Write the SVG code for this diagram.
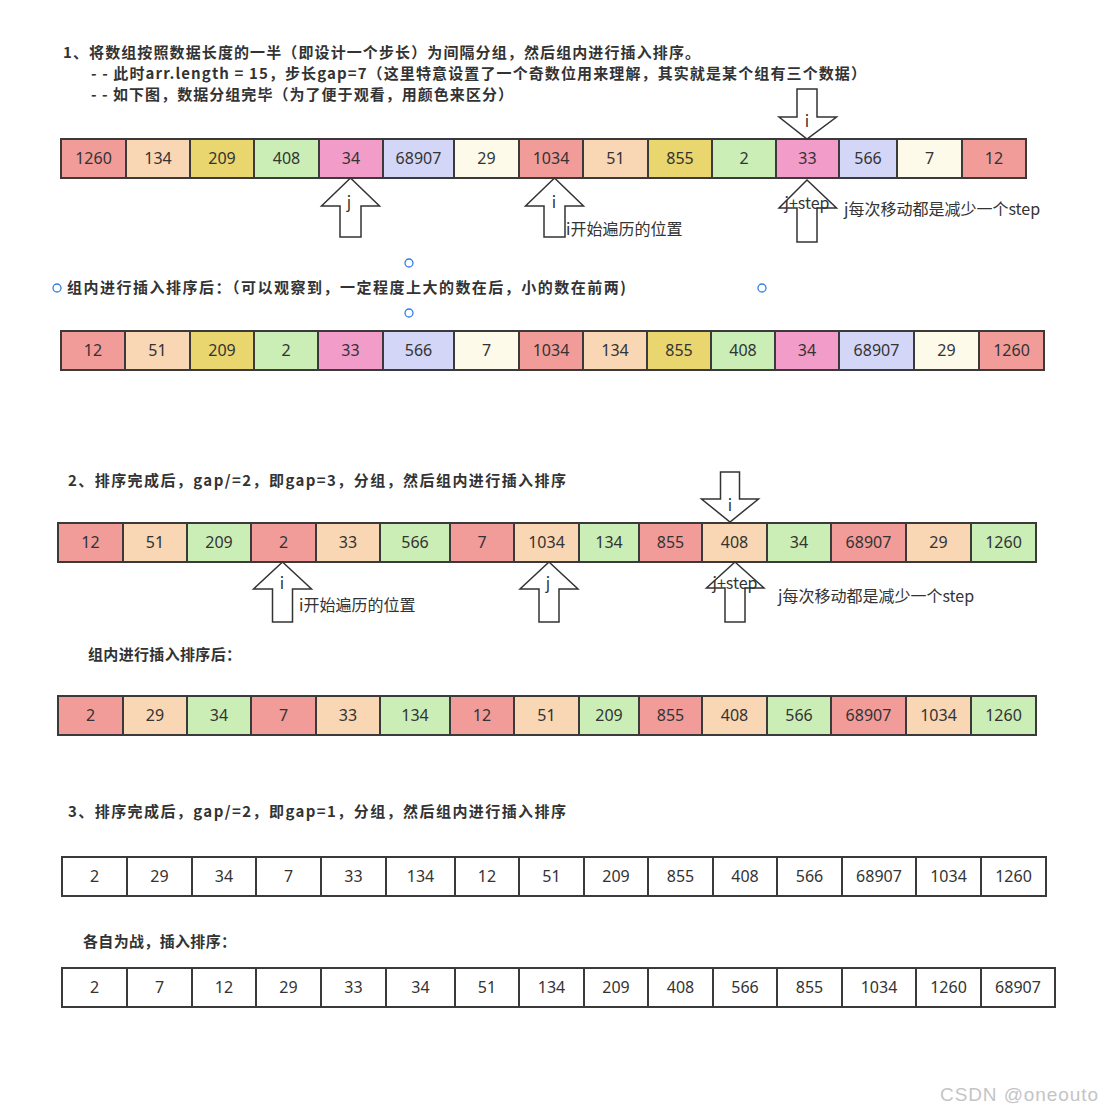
<svg xmlns="http://www.w3.org/2000/svg" width="1104" height="1113" viewBox="0 0 1104 1113">
<style>
.bg{fill:#ffffff}
.h{font-family:"Noto Sans CJK SC","Noto Sans",sans-serif;font-size:15px;font-weight:bold;fill:#333333}
.c rect{stroke:#3a3a3a;stroke-width:2}
.c text,.n{font-family:"Noto Sans","Noto Sans CJK SC",sans-serif;font-size:16px;fill:#333333;text-anchor:middle}
.R{fill:#F19C99}.P{fill:#F9D6B4}.Y{fill:#E9D66E}.G{fill:#CBEDB6}.K{fill:#F19CC9}.L{fill:#D3D6F6}.C{fill:#FDFAEA}.W{fill:#ffffff}
.arr{fill:#ffffff;stroke:#333333;stroke-width:1.5;stroke-linejoin:miter}
.lbl{font-family:"Noto Sans CJK SC","Noto Sans",sans-serif;font-size:16px;fill:#333333}
.ctr{text-anchor:middle}
.hd{fill:#ffffff;stroke:#2f7fe6;stroke-width:1.3}
.wm{font-family:"Liberation Sans",Arial,sans-serif;font-size:19px;fill:#c4c4c4}
</style>
<rect class="bg" x="0" y="0" width="1104" height="1113"/>

<g id="headings">
<text class="h" x="63" y="58" textLength="637">1、将数组按照数据长度的一半（即设计一个步长）为间隔分组，然后组内进行插入排序。</text>
<text class="h" x="91" y="79" textLength="775">- - 此时arr.length = 15，步长gap=7（这里特意设置了一个奇数位用来理解，其实就是某个组有三个数据）</text>
<text class="h" x="91" y="100" textLength="422">- - 如下图，数据分组完毕（为了便于观看，用颜色来区分）</text>
<text class="h" x="67" y="293" textLength="559">组内进行插入排序后：（可以观察到，一定程度上大的数在后，小的数在前两)</text>
<text class="h" x="68" y="486" textLength="498">2、排序完成后，gap/=2，即gap=3，分组，然后组内进行插入排序</text>
<text class="h" x="88" y="660" textLength="153">组内进行插入排序后：</text>
<text class="h" x="68" y="817" textLength="498">3、排序完成后，gap/=2，即gap=1，分组，然后组内进行插入排序</text>
<text class="h" x="83" y="947" textLength="153">各自为战，插入排序：</text>
</g>

<g id="handles">
<circle class="hd" cx="409" cy="263" r="4"/>
<circle class="hd" cx="57" cy="288" r="4"/>
<circle class="hd" cx="762" cy="288" r="4"/>
<circle class="hd" cx="409" cy="313" r="4"/>
</g>

<!-- Row 1 -->
<g id="row1" class="c">
<g id="r1c1"><rect class="R" x="61" y="139" width="65" height="39"/><text x="93.5" y="164">1260</text></g>
<g id="r1c2"><rect class="P" x="126" y="139" width="64" height="39"/><text x="158" y="164">134</text></g>
<g id="r1c3"><rect class="Y" x="190" y="139" width="64" height="39"/><text x="222" y="164">209</text></g>
<g id="r1c4"><rect class="G" x="254" y="139" width="65" height="39"/><text x="286.5" y="164">408</text></g>
<g id="r1c5"><rect class="K" x="319" y="139" width="64" height="39"/><text x="351" y="164">34</text></g>
<g id="r1c6"><rect class="L" x="383" y="139" width="71" height="39"/><text x="418.5" y="164">68907</text></g>
<g id="r1c7"><rect class="C" x="454" y="139" width="65" height="39"/><text x="486.5" y="164">29</text></g>
<g id="r1c8"><rect class="R" x="519" y="139" width="64" height="39"/><text x="551" y="164">1034</text></g>
<g id="r1c9"><rect class="P" x="583" y="139" width="65" height="39"/><text x="615.5" y="164">51</text></g>
<g id="r1c10"><rect class="Y" x="648" y="139" width="64" height="39"/><text x="680" y="164">855</text></g>
<g id="r1c11"><rect class="G" x="712" y="139" width="64" height="39"/><text x="744" y="164">2</text></g>
<g id="r1c12"><rect class="K" x="776" y="139" width="63" height="39"/><text x="807.5" y="164">33</text></g>
<g id="r1c13"><rect class="L" x="839" y="139" width="58" height="39"/><text x="868" y="164">566</text></g>
<g id="r1c14"><rect class="C" x="897" y="139" width="65" height="39"/><text x="929.5" y="164">7</text></g>
<g id="r1c15"><rect class="R" x="962" y="139" width="64" height="39"/><text x="994" y="164">12</text></g>
</g>

<!-- Row 2 -->
<g id="row2" class="c">
<g id="r2c1"><rect class="R" x="61" y="331" width="64" height="39"/><text x="93" y="356">12</text></g>
<g id="r2c2"><rect class="P" x="125" y="331" width="65" height="39"/><text x="157.5" y="356">51</text></g>
<g id="r2c3"><rect class="Y" x="190" y="331" width="64" height="39"/><text x="222" y="356">209</text></g>
<g id="r2c4"><rect class="G" x="254" y="331" width="64" height="39"/><text x="286" y="356">2</text></g>
<g id="r2c5"><rect class="K" x="318" y="331" width="65" height="39"/><text x="350.5" y="356">33</text></g>
<g id="r2c6"><rect class="L" x="383" y="331" width="71" height="39"/><text x="418.5" y="356">566</text></g>
<g id="r2c7"><rect class="C" x="454" y="331" width="65" height="39"/><text x="486.5" y="356">7</text></g>
<g id="r2c8"><rect class="R" x="519" y="331" width="64" height="39"/><text x="551" y="356">1034</text></g>
<g id="r2c9"><rect class="P" x="583" y="331" width="64" height="39"/><text x="615" y="356">134</text></g>
<g id="r2c10"><rect class="Y" x="647" y="331" width="64" height="39"/><text x="679" y="356">855</text></g>
<g id="r2c11"><rect class="G" x="711" y="331" width="64" height="39"/><text x="743" y="356">408</text></g>
<g id="r2c12"><rect class="K" x="775" y="331" width="64" height="39"/><text x="807" y="356">34</text></g>
<g id="r2c13"><rect class="L" x="839" y="331" width="75" height="39"/><text x="876.5" y="356">68907</text></g>
<g id="r2c14"><rect class="C" x="914" y="331" width="65" height="39"/><text x="946.5" y="356">29</text></g>
<g id="r2c15"><rect class="R" x="979" y="331" width="65" height="39"/><text x="1011.5" y="356">1260</text></g>
</g>

<!-- Row 3 -->
<g id="row3" class="c">
<g id="r3c1"><rect class="R" x="58" y="523" width="65" height="39"/><text x="90.5" y="548">12</text></g>
<g id="r3c2"><rect class="P" x="123" y="523" width="64" height="39"/><text x="155" y="548">51</text></g>
<g id="r3c3"><rect class="G" x="187" y="523" width="64" height="39"/><text x="219" y="548">209</text></g>
<g id="r3c4"><rect class="R" x="251" y="523" width="65" height="39"/><text x="283.5" y="548">2</text></g>
<g id="r3c5"><rect class="P" x="316" y="523" width="64" height="39"/><text x="348" y="548">33</text></g>
<g id="r3c6"><rect class="G" x="380" y="523" width="70" height="39"/><text x="415" y="548">566</text></g>
<g id="r3c7"><rect class="R" x="450" y="523" width="64" height="39"/><text x="482" y="548">7</text></g>
<g id="r3c8"><rect class="P" x="514" y="523" width="65" height="39"/><text x="546.5" y="548">1034</text></g>
<g id="r3c9"><rect class="G" x="579" y="523" width="60" height="39"/><text x="609" y="548">134</text></g>
<g id="r3c10"><rect class="R" x="639" y="523" width="63" height="39"/><text x="670.5" y="548">855</text></g>
<g id="r3c11"><rect class="P" x="702" y="523" width="65" height="39"/><text x="734.5" y="548">408</text></g>
<g id="r3c12"><rect class="G" x="767" y="523" width="64" height="39"/><text x="799" y="548">34</text></g>
<g id="r3c13"><rect class="R" x="831" y="523" width="75" height="39"/><text x="868.5" y="548">68907</text></g>
<g id="r3c14"><rect class="P" x="906" y="523" width="65" height="39"/><text x="938.5" y="548">29</text></g>
<g id="r3c15"><rect class="G" x="971" y="523" width="65" height="39"/><text x="1003.5" y="548">1260</text></g>
</g>

<!-- Row 4 -->
<g id="row4" class="c">
<g id="r4c1"><rect class="R" x="58" y="696" width="65" height="39"/><text x="90.5" y="721">2</text></g>
<g id="r4c2"><rect class="P" x="123" y="696" width="64" height="39"/><text x="155" y="721">29</text></g>
<g id="r4c3"><rect class="G" x="187" y="696" width="64" height="39"/><text x="219" y="721">34</text></g>
<g id="r4c4"><rect class="R" x="251" y="696" width="65" height="39"/><text x="283.5" y="721">7</text></g>
<g id="r4c5"><rect class="P" x="316" y="696" width="64" height="39"/><text x="348" y="721">33</text></g>
<g id="r4c6"><rect class="G" x="380" y="696" width="70" height="39"/><text x="415" y="721">134</text></g>
<g id="r4c7"><rect class="R" x="450" y="696" width="64" height="39"/><text x="482" y="721">12</text></g>
<g id="r4c8"><rect class="P" x="514" y="696" width="65" height="39"/><text x="546.5" y="721">51</text></g>
<g id="r4c9"><rect class="G" x="579" y="696" width="60" height="39"/><text x="609" y="721">209</text></g>
<g id="r4c10"><rect class="R" x="639" y="696" width="63" height="39"/><text x="670.5" y="721">855</text></g>
<g id="r4c11"><rect class="P" x="702" y="696" width="65" height="39"/><text x="734.5" y="721">408</text></g>
<g id="r4c12"><rect class="G" x="767" y="696" width="64" height="39"/><text x="799" y="721">566</text></g>
<g id="r4c13"><rect class="R" x="831" y="696" width="75" height="39"/><text x="868.5" y="721">68907</text></g>
<g id="r4c14"><rect class="P" x="906" y="696" width="65" height="39"/><text x="938.5" y="721">1034</text></g>
<g id="r4c15"><rect class="G" x="971" y="696" width="65" height="39"/><text x="1003.5" y="721">1260</text></g>
</g>

<!-- Row 5 -->
<g id="row5" class="c">
<g id="r5c1"><rect class="W" x="62" y="857" width="65" height="39"/><text x="94.5" y="882">2</text></g>
<g id="r5c2"><rect class="W" x="127" y="857" width="65" height="39"/><text x="159.5" y="882">29</text></g>
<g id="r5c3"><rect class="W" x="192" y="857" width="64" height="39"/><text x="224" y="882">34</text></g>
<g id="r5c4"><rect class="W" x="256" y="857" width="65" height="39"/><text x="288.5" y="882">7</text></g>
<g id="r5c5"><rect class="W" x="321" y="857" width="65" height="39"/><text x="353.5" y="882">33</text></g>
<g id="r5c6"><rect class="W" x="386" y="857" width="69" height="39"/><text x="420.5" y="882">134</text></g>
<g id="r5c7"><rect class="W" x="455" y="857" width="64" height="39"/><text x="487" y="882">12</text></g>
<g id="r5c8"><rect class="W" x="519" y="857" width="65" height="39"/><text x="551.5" y="882">51</text></g>
<g id="r5c9"><rect class="W" x="584" y="857" width="64" height="39"/><text x="616" y="882">209</text></g>
<g id="r5c10"><rect class="W" x="648" y="857" width="65" height="39"/><text x="680.5" y="882">855</text></g>
<g id="r5c11"><rect class="W" x="713" y="857" width="64" height="39"/><text x="745" y="882">408</text></g>
<g id="r5c12"><rect class="W" x="777" y="857" width="65" height="39"/><text x="809.5" y="882">566</text></g>
<g id="r5c13"><rect class="W" x="842" y="857" width="74" height="39"/><text x="879" y="882">68907</text></g>
<g id="r5c14"><rect class="W" x="916" y="857" width="65" height="39"/><text x="948.5" y="882">1034</text></g>
<g id="r5c15"><rect class="W" x="981" y="857" width="65" height="39"/><text x="1013.5" y="882">1260</text></g>
</g>

<!-- Row 6 -->
<g id="row6" class="c">
<g id="r6c1"><rect class="W" x="62" y="968" width="65" height="39"/><text x="94.5" y="993">2</text></g>
<g id="r6c2"><rect class="W" x="127" y="968" width="65" height="39"/><text x="159.5" y="993">7</text></g>
<g id="r6c3"><rect class="W" x="192" y="968" width="64" height="39"/><text x="224" y="993">12</text></g>
<g id="r6c4"><rect class="W" x="256" y="968" width="65" height="39"/><text x="288.5" y="993">29</text></g>
<g id="r6c5"><rect class="W" x="321" y="968" width="65" height="39"/><text x="353.5" y="993">33</text></g>
<g id="r6c6"><rect class="W" x="386" y="968" width="69" height="39"/><text x="420.5" y="993">34</text></g>
<g id="r6c7"><rect class="W" x="455" y="968" width="64" height="39"/><text x="487" y="993">51</text></g>
<g id="r6c8"><rect class="W" x="519" y="968" width="65" height="39"/><text x="551.5" y="993">134</text></g>
<g id="r6c9"><rect class="W" x="584" y="968" width="64" height="39"/><text x="616" y="993">209</text></g>
<g id="r6c10"><rect class="W" x="648" y="968" width="65" height="39"/><text x="680.5" y="993">408</text></g>
<g id="r6c11"><rect class="W" x="713" y="968" width="64" height="39"/><text x="745" y="993">566</text></g>
<g id="r6c12"><rect class="W" x="777" y="968" width="65" height="39"/><text x="809.5" y="993">855</text></g>
<g id="r6c13"><rect class="W" x="842" y="968" width="74" height="39"/><text x="879" y="993">1034</text></g>
<g id="r6c14"><rect class="W" x="916" y="968" width="65" height="39"/><text x="948.5" y="993">1260</text></g>
<g id="r6c15"><rect class="W" x="981" y="968" width="74" height="39"/><text x="1018" y="993">68907</text></g>
</g>

<!-- Arrows (connectors) -->
<g id="connectors">
<g id="a1j"><path class="arr" d="M350.5,178 L379.5,206 L361,206 L361,237 L340,237 L340,206 L321.5,206 Z"/><text class="lbl ctr" x="349" y="208">j</text></g>
<g id="a1i"><path class="arr" d="M554.5,178 L583.5,206 L565,206 L565,237 L544,237 L544,206 L525.5,206 Z"/><text class="lbl ctr" x="554" y="208">i</text></g>
<g id="a1idown"><path class="arr" d="M797,89 L817,89 L817,117 L836.5,117 L807,139 L779,117 L797,117 Z"/><text class="lbl ctr" x="807" y="127">i</text></g>
<g id="a1js"><path class="arr" d="M807,180 L836.5,208 L817,208 L817,242 L797,242 L797,208 L779,208 Z"/><text class="lbl ctr" x="807" y="209">j+step</text></g>
<g id="a3i"><path class="arr" d="M282.5,562 L311.5,589 L292.5,589 L292.5,622 L272.5,622 L272.5,589 L253.5,589 Z"/><text class="lbl ctr" x="282" y="589">i</text></g>
<g id="a3j"><path class="arr" d="M549,562 L578,589 L559,589 L559,622 L539,622 L539,589 L520,589 Z"/><text class="lbl ctr" x="548" y="589">j</text></g>
<g id="a3idown"><path class="arr" d="M720.5,472 L739.5,472 L739.5,499 L758.5,499 L730,522 L701.5,499 L720.5,499 Z"/><text class="lbl ctr" x="730" y="511">i</text></g>
<g id="a3js"><path class="arr" d="M735,562 L764,588 L745,588 L745,622 L725,622 L725,588 L706.5,588 Z"/><text class="lbl ctr" x="735" y="589">j+step</text></g>
</g>

<g id="notes">
<text class="lbl" x="566" y="235">i开始遍历的位置</text>
<text class="lbl" x="844" y="215">j每次移动都是减少一个step</text>
<text class="lbl" x="299" y="611">i开始遍历的位置</text>
<text class="lbl" x="778" y="602">j每次移动都是减少一个step</text>
</g>

<text class="wm" x="940" y="1101" textLength="158">CSDN @oneouto</text>
</svg>
